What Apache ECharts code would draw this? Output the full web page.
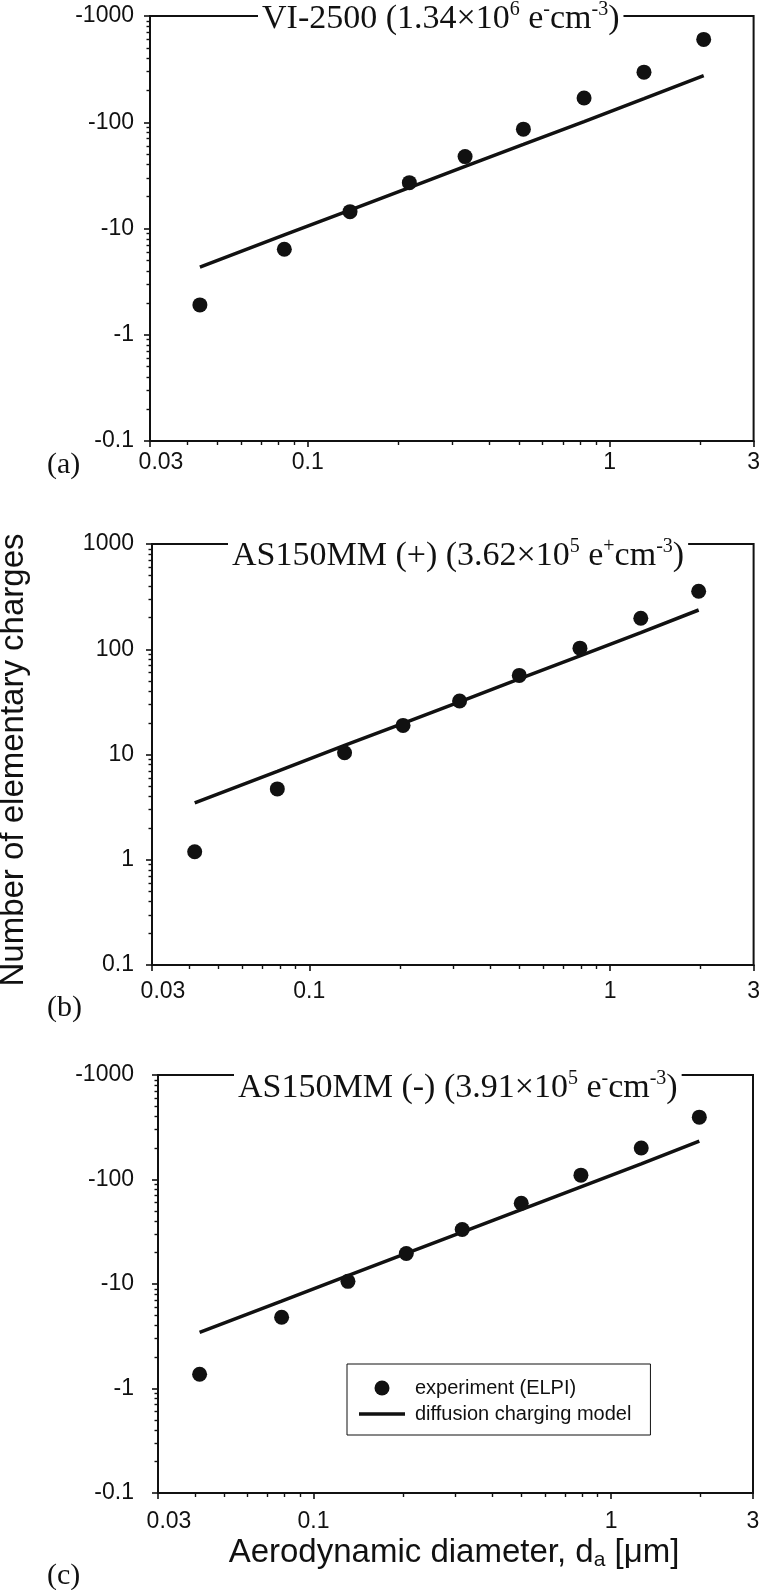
<!DOCTYPE html>
<html><head><meta charset="utf-8">
<script src="https://cdn.jsdelivr.net/npm/echarts@6/dist/echarts.min.js"></script>
<style>html,body{margin:0;padding:0;background:#fff}#chart{width:763px;height:1590px}</style>
</head><body><div id="chart"></div>
<script>
// ---- data ----
// (a) VI-2500
const aDiameter   = [0.0439, 0.0836, 0.138, 0.217, 0.332, 0.518, 0.823, 1.30, 2.05];
const aExperiment = [-1.91, -6.38, -14.4, -27.0, -47.5, -86.1, -169, -296, -602];
const aModel      = [-4.34, -8.69, -14.9, -24.3, -38.4, -61.8, -101.6, -167, -275];
// (b) AS150MM (+)
const bDiameter   = [0.0416, 0.0783, 0.131, 0.205, 0.316, 0.499, 0.794, 1.265, 1.97];
const bExperiment = [1.19, 4.71, 10.4, 18.9, 32.2, 56.4, 102.4, 197, 356];
const bModel      = [3.47, 6.92, 12.2, 19.8, 31.7, 52.2, 86.5, 144, 236];
// (c) AS150MM (-)
const cDiameter   = [0.0414, 0.0781, 0.1305, 0.205, 0.316, 0.499, 0.792, 1.263, 1.98];
const cExperiment = [-1.37, -4.80, -10.6, -19.6, -33.2, -59.3, -110, -200, -395];
const cModel      = [-3.44, -6.85, -12.0, -19.6, -31.3, -51.5, -85.1, -141, -233];

const xTickValues = [0.03, 0.1, 1, 3];
const xTickLabels = ['0.03', '0.1', '1', '3'];
const yTickValues = [0.1, 1, 10, 100, 1000];
const yTickLabelsPos = ['0.1', '1', '10', '100', '1000'];
const yTickLabelsNeg = ['-0.1', '-1', '-10', '-100', '-1000'];

const ink = '#111';
const SANS = 'Liberation Sans, Arial, sans-serif';
const SERIF = 'Liberation Serif, Times New Roman, serif';

function minorLogs(lo, hi) {
  const out = [];
  for (let e = Math.floor(Math.log10(lo)) - 1; e <= Math.ceil(Math.log10(hi)); e++) {
    for (let m = 2; m <= 9; m++) {
      const v = m * Math.pow(10, e);
      if (v > lo * 1.0001 && v < hi * 0.9999) out.push(Math.log10(v));
    }
  }
  return out;
}
const xLo = Math.log10(xTickValues[0]), xHi = Math.log10(xTickValues[xTickValues.length - 1]);
const yLo = Math.log10(yTickValues[0]), yHi = Math.log10(yTickValues[yTickValues.length - 1]);
const xMajor = xTickValues.map(Math.log10);
const yMajor = yTickValues.map(Math.log10);
const xMinor = minorLogs(xTickValues[0], xTickValues[xTickValues.length - 1]);
const yMinor = minorLogs(yTickValues[0], yTickValues[yTickValues.length - 1]);

function nearestIdx(arr, v) {
  let best = 0;
  arr.forEach((a, i) => { if (Math.abs(a - v) < Math.abs(arr[best] - v)) best = i; });
  return best;
}

function makeX(grid, margin) {
  return [
    { type: 'value', gridIndex: grid, min: xLo, max: xHi, position: 'bottom',
      axisLine: { show: true, onZero: false, lineStyle: { color: ink, width: 2 } },
      axisTick: { show: true, inside: false, length: 6, lineStyle: { color: ink, width: 1.6 }, customValues: xMajor },
      axisLabel: { show: true, customValues: xMajor, margin: margin, fontSize: 23, fontFamily: SANS, color: ink,
        showMinLabel: true, showMaxLabel: true,
        formatter: v => { const i = nearestIdx(xMajor, v); return i === 0 ? '{f|' + xTickLabels[i] + '}' : xTickLabels[i]; },
        rich: { f: { fontSize: 23, fontFamily: SANS, color: ink, padding: [0, 0, 0, 22] } } },
      splitLine: { show: false } },
    { type: 'value', gridIndex: grid, min: xLo, max: xHi, position: 'bottom',
      axisLine: { show: false, onZero: false }, axisLabel: { show: false },
      axisTick: { show: true, inside: false, length: 4, lineStyle: { color: ink, width: 1.4 }, customValues: xMinor },
      splitLine: { show: false } }
  ];
}
function makeY(grid, labels, margin) {
  return [
    { type: 'value', gridIndex: grid, min: yLo, max: yHi, interval: 1, position: 'left',
      axisLine: { show: true, onZero: false, lineStyle: { color: ink, width: 2 } },
      axisTick: { show: true, inside: false, length: 6, lineStyle: { color: ink, width: 1.6 }, customValues: yMajor },
      axisLabel: { show: true, customValues: yMajor, margin: margin, fontSize: 23, fontFamily: SANS, color: ink,
        showMinLabel: true, showMaxLabel: true,
        formatter: v => labels[nearestIdx(yMajor, v)] },
      splitLine: { show: false } },
    { type: 'value', gridIndex: grid, min: yLo, max: yHi, interval: 1, position: 'left',
      axisLine: { show: false, onZero: false }, axisLabel: { show: false },
      axisTick: { show: true, inside: false, length: 3.5, lineStyle: { color: ink, width: 1.4 }, customValues: yMinor },
      splitLine: { show: false } }
  ];
}
function pairs(xs, ys) { return xs.map((x, i) => [Math.log10(x), Math.log10(Math.abs(ys[i]))]); }

const EXP = 'experiment (ELPI)', MOD = 'diffusion charging model';
function panelSeries(ax, xs, exp, mod) {
  return [
    { name: MOD, type: 'line', xAxisIndex: ax, yAxisIndex: ax, data: pairs(xs, mod), symbol: 'none',
      color: ink, itemStyle: { color: ink }, lineStyle: { color: ink, width: 3.5 }, z: 2 },
    { name: EXP, type: 'scatter', xAxisIndex: ax, yAxisIndex: ax, data: pairs(xs, exp), symbol: 'circle',
      symbolSize: 15, color: ink, itemStyle: { color: ink, opacity: 1 }, z: 3 }
  ];
}

const titleRich = {
  m: { fontSize: 34, fontFamily: SERIF, fontWeight: 'normal', color: ink, lineHeight: 38 },
  s: { fontSize: 20, fontFamily: SERIF, fontWeight: 'normal', color: ink, lineHeight: 18, verticalAlign: 'top' }
};
function mkTitle(text, left, top) {
  return { text: text, left: left, top: top, padding: [0, 4, 0, 4], backgroundColor: '#fff',
    textStyle: { rich: titleRich, fontSize: 34, fontWeight: 'normal', fontFamily: SERIF, color: ink, lineHeight: 38 } };
}

const gridStyle = { show: true, borderColor: ink, borderWidth: 2, backgroundColor: 'rgba(0,0,0,0)' };

const option = {
  animation: false,
  backgroundColor: '#fff',
  title: [
    mkTitle('{m|VI-2500 (1.34×10}{s|6}{m| e}{s|-}{m|cm}{s|-3}{m|)}', 258, 0),
    mkTitle('{m|AS150MM (+) (3.62×10}{s|5}{m| e}{s|+}{m|cm}{s|-3}{m|)}', 228, 537),
    mkTitle('{m|AS150MM (-) (3.91×10}{s|5}{m| e}{s|-}{m|cm}{s|-3}{m|)}', 234, 1069)
  ],
  grid: [
    Object.assign({ left: 150, top: 16, width: 605, height: 425 }, gridStyle),
    Object.assign({ left: 152, top: 544, width: 603, height: 421 }, gridStyle),
    Object.assign({ left: 158, top: 1075, width: 595, height: 418 }, gridStyle)
  ],
  xAxis: [].concat(makeX(0, 10), makeX(1, 15), makeX(2, 17)),
  yAxis: [].concat(makeY(0, yTickLabelsNeg, 16), makeY(1, yTickLabelsPos, 18), makeY(2, yTickLabelsNeg, 24)),
  legend: {
    data: [
      { name: EXP, icon: 'circle' },
      { name: MOD, icon: 'path://M0,0 L0,0.01 M0,5.75 L46,5.75 L46,9.25 L0,9.25 Z M46,15 L46,14.99' }
    ],
    orient: 'vertical', left: 347, top: 1364,
    itemWidth: 46, itemHeight: 15, itemGap: 6, selectedMode: false,
    itemStyle: { color: ink, borderWidth: 0 },
    borderColor: ink, borderWidth: 1, padding: [14, 19, 11, 12], backgroundColor: '#fff',
    textStyle: { fontSize: 20, fontFamily: SANS, color: ink, padding: [0, 0, 0, 5] }
  },
  graphic: [
    { type: 'text', x: 14, y: 760, rotation: Math.PI / 2,
      style: { text: 'Number of elementary charges', fontSize: 33, fontFamily: SANS, fill: ink, align: 'center', verticalAlign: 'middle' } },
    { type: 'text', x: 454, y: 1553,
      style: { text: '{m|Aerodynamic diameter, d}{s|a}{m| [μm]}', align: 'center', verticalAlign: 'middle',
        rich: { m: { fontSize: 33, fontFamily: SANS, fill: ink, lineHeight: 36 },
                s: { fontSize: 21, fontFamily: SANS, fill: ink, lineHeight: 21, verticalAlign: 'bottom' } } } },
    { type: 'text', x: 47, y: 465, style: { text: '(a)', fontSize: 30, fontFamily: SERIF, fill: ink, align: 'left', verticalAlign: 'middle' } },
    { type: 'text', x: 47, y: 1008, style: { text: '(b)', fontSize: 30, fontFamily: SERIF, fill: ink, align: 'left', verticalAlign: 'middle' } },
    { type: 'text', x: 47, y: 1576, style: { text: '(c)', fontSize: 30, fontFamily: SERIF, fill: ink, align: 'left', verticalAlign: 'middle' } }
  ],
  series: [].concat(
    panelSeries(0, aDiameter, aExperiment, aModel),
    panelSeries(2, bDiameter, bExperiment, bModel),
    panelSeries(4, cDiameter, cExperiment, cModel)
  )
};

const chart = echarts.init(document.getElementById('chart'), null, { renderer: 'canvas' });
chart.setOption(option);
</script>
</body></html>
